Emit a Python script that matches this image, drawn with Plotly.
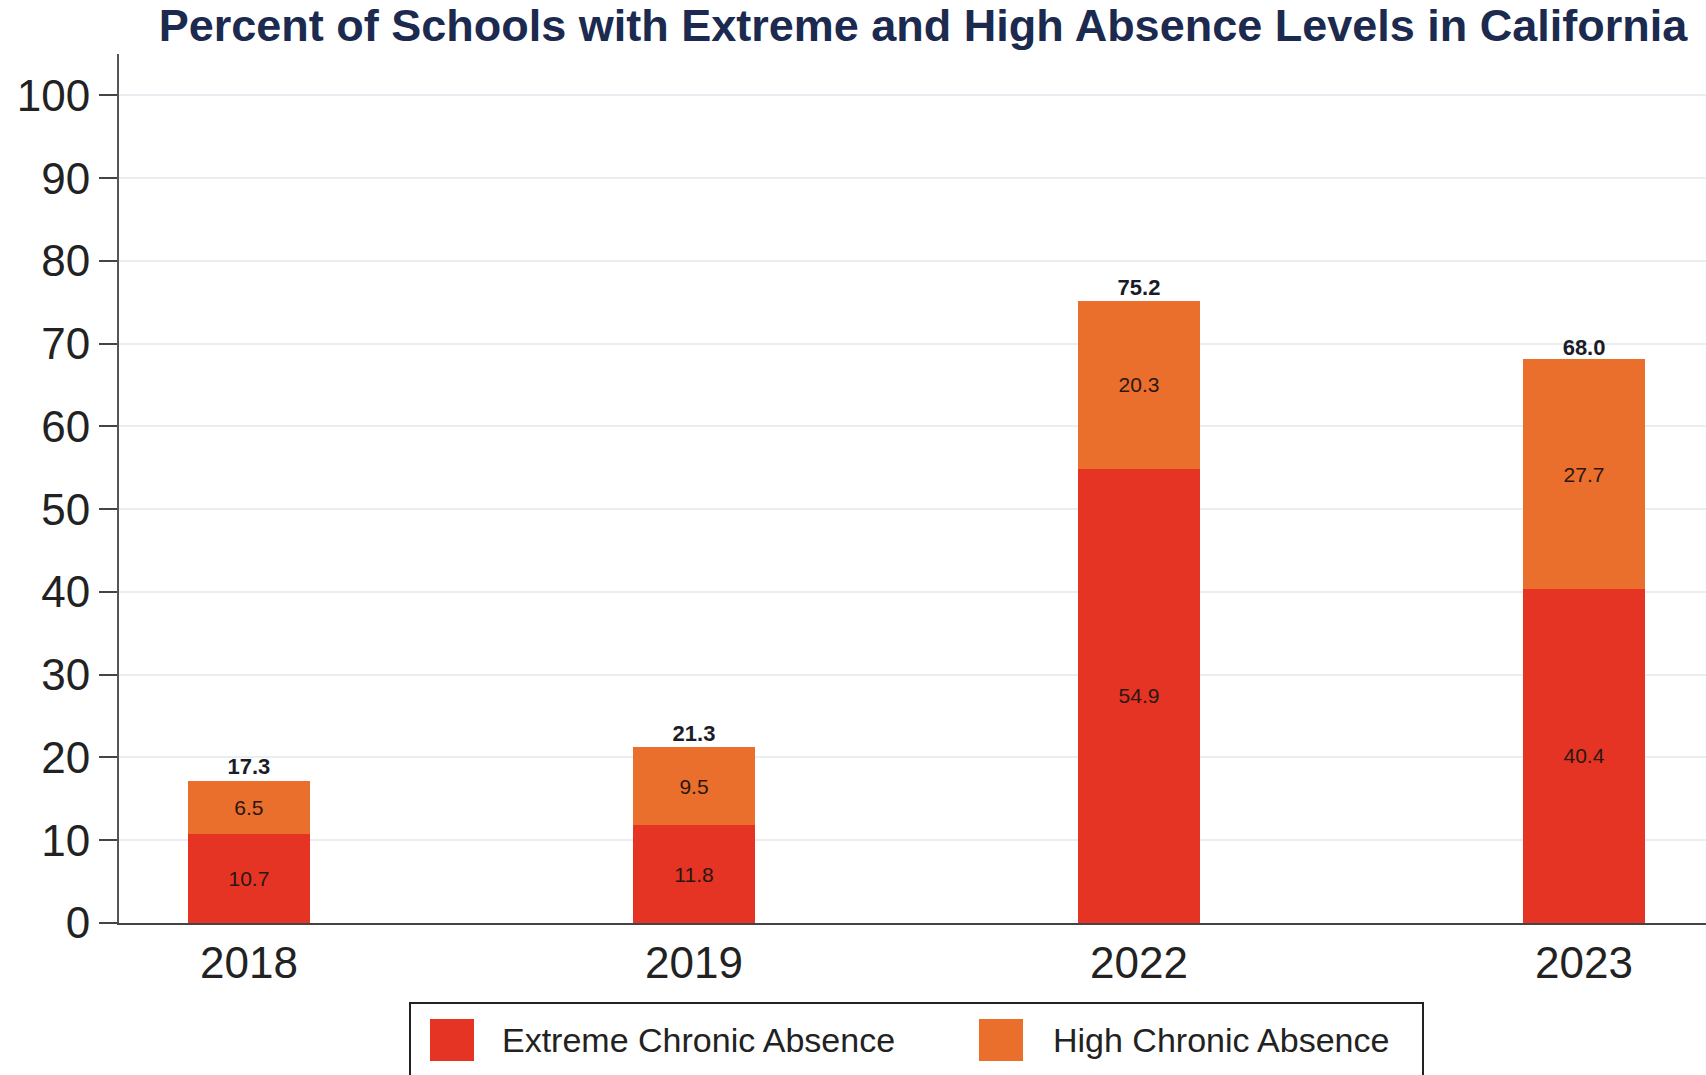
import plotly.graph_objects as go

# Data
years = ["2018", "2019", "2022", "2023"]
extreme = [10.7, 11.8, 54.9, 40.4]
high = [6.5, 9.5, 20.3, 27.7]
totals = [17.3, 21.3, 75.2, 68.0]
series_names = ["Extreme Chronic Absence", "High Chronic Absence"]
series_colors = ["#E53424", "#EA6E2C"]
y_ticks = [0, 10, 20, 30, 40, 50, 60, 70, 80, 90, 100]

W, H = 1706, 1075
M_L, M_R, M_T, M_B = 119, 0, 54, 152
FONT = "Liberation Sans, Arial, sans-serif"

fig = go.Figure()

for name, vals, color in zip(series_names, [extreme, high], series_colors):
    fig.add_trace(go.Bar(
        x=years, y=vals, name=name,
        marker=dict(color=color, line=dict(width=0)),
        width=0.274,
        text=[f"{v:.1f}" for v in vals],
        textposition="inside", insidetextanchor="middle", textangle=0,
        textfont=dict(family=FONT, size=21, color="#2a1712"),
        constraintext="none",
        showlegend=False,
        hoverinfo="skip",
    ))

# Stack totals above each bar
fig.add_trace(go.Scatter(
    x=years, y=totals, mode="text",
    text=[f"{v:.1f}" for v in totals],
    textposition="top center",
    textfont=dict(family=FONT, size=22, color="#1a1c28", weight="bold"),
    showlegend=False, hoverinfo="skip",
))

# Custom legend box below the plot
pw = W - M_L - M_R
ph = H - M_T - M_B
def px_x(x):
    return (x - M_L) / pw
def px_y(y):
    return (H - M_B - y) / ph

shapes = [dict(type="rect", xref="paper", yref="paper",
               x0=px_x(410), x1=px_x(1423), y0=px_y(1090), y1=px_y(1003),
               line=dict(color="#222222", width=2), fillcolor="white", layer="above")]
annotations = []
swatch_x = [430, 979]
label_x = [500, 1051]
for name, color, sx, lx in zip(series_names, series_colors, swatch_x, label_x):
    shapes.append(dict(type="rect", xref="paper", yref="paper",
                       x0=px_x(sx), x1=px_x(sx + 44), y0=px_y(1061), y1=px_y(1019),
                       line=dict(width=0), fillcolor=color, layer="above"))
    annotations.append(dict(xref="paper", yref="paper", x=px_x(lx), y=px_y(1040),
                            xanchor="left", yanchor="middle", showarrow=False,
                            text=name,
                            font=dict(family=FONT, size=34, color="#222222")))

fig.update_layout(
    width=W, height=H,
    barmode="stack",
    margin=dict(l=M_L, r=M_R, t=M_T, b=M_B),
    plot_bgcolor="white", paper_bgcolor="white",
    title=dict(text="<b>Percent of Schools with Extreme and High Absence Levels in California</b>",
               x=923 / W, xanchor="center", y=1 - 25 / H, yanchor="middle", yref="container",
               font=dict(family=FONT, size=45, color="#1B2A4E")),
    xaxis=dict(type="category", range=[-0.292, 3.274],
               showline=True, linecolor="#444444", linewidth=2,
               ticks="", showgrid=False,
               tickfont=dict(family=FONT, size=44, color="#222222")),
    yaxis=dict(range=[0, 105], tickvals=y_ticks,
               showline=True, linecolor="#555555", linewidth=2,
               ticks="outside", ticklen=18, tickwidth=2, tickcolor="#444444",
               showgrid=True, gridcolor="#EAEDF1", gridwidth=2, zeroline=False,
               tickfont=dict(family=FONT, size=44, color="#222222")),
    shapes=shapes,
    annotations=annotations,
    showlegend=False,
)

fig.write_html("out.html")
